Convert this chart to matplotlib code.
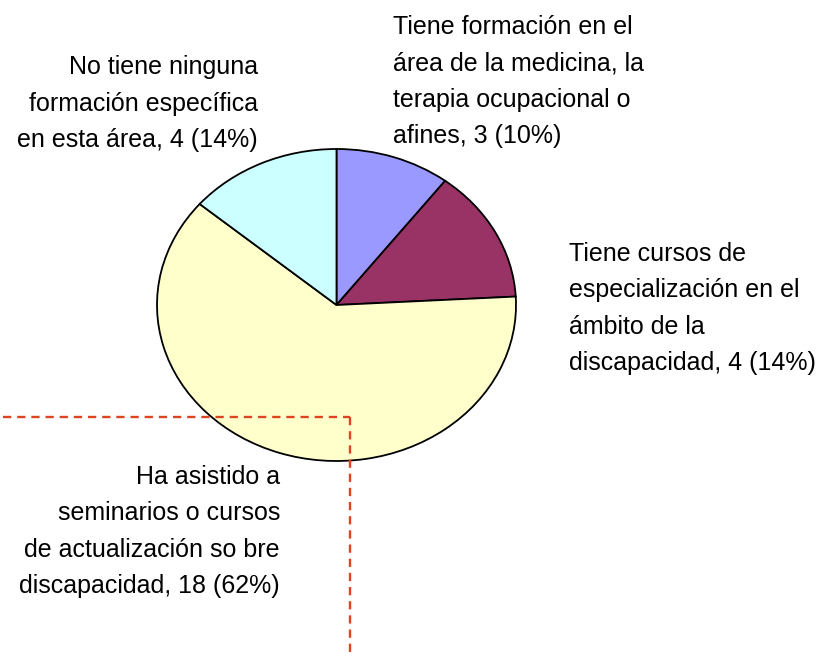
import matplotlib
matplotlib.use("Agg")
import matplotlib.pyplot as plt

# donnees du camembert (sens horaire depuis le haut)
categorias = [
    "Tiene formación en el\nárea de la medicina, la\nterapia ocupacional o\nafines",
    "Tiene cursos de\nespecialización en el\námbito de la\ndiscapacidad",
    "Ha asistido a\nseminarios o cursos\nde actualización so bre\ndiscapacidad",
    "No tiene ninguna\nformación específica\nen esta área",
]
valores = [3, 4, 18, 4]
porcentajes = [10, 14, 62, 14]
colores = ["#9999FF", "#993366", "#FFFFCC", "#CCFFFF"]

W, H = 828, 657
fig = plt.figure(figsize=(W / 100, H / 100), dpi=100)

# axe du camembert : boite de l'ellipse en pixels (gauche, haut, droite, bas)
l, t, r, b = 157, 149, 516, 461
ax = fig.add_axes([l / W, 1 - b / H, (r - l) / W, (b - t) / H])
wedges, _ = ax.pie(valores, colors=colores, startangle=90, counterclock=False,
                   wedgeprops=dict(edgecolor="black", linewidth=1.3))
for w in wedges:
    w.set_clip_on(False)
ax.set_aspect("auto")
ax.set_xlim(-1, 1)
ax.set_ylim(-1, 1)
ax.axis("off")

# axe par-dessus, en coordonnees pixels, pour textes et pointilles
ov = fig.add_axes([0, 0, 1, 1])
ov.set_xlim(0, W)
ov.set_ylim(H, 0)
ov.axis("off")
ov.patch.set_alpha(0)

# position du texte : (x, y de la derniere ligne, alignement)
pos_txt = [(393, 143, "left"), (569, 370, "left"), (280, 593, "right"), (258, 147, "right")]
for cat, v, p, (x, y, ha) in zip(categorias, valores, porcentajes, pos_txt):
    ov.text(x, y, f"{cat}, {v} ({p}%)", ha=ha, va="baseline", multialignment=ha,
            fontsize=18, family="Liberation Sans", linespacing=1.65, color="black")

# les pointilles rouges
ov.plot([3, 350.5], [416.7, 416.7], color="#DD4422", lw=1.7, dashes=(3.5, 2.5))
ov.plot([350.5, 350.5], [416.7, H], color="#DD4422", lw=1.7, dashes=(3.5, 2.5))

fig.savefig("out.png", dpi=100)
